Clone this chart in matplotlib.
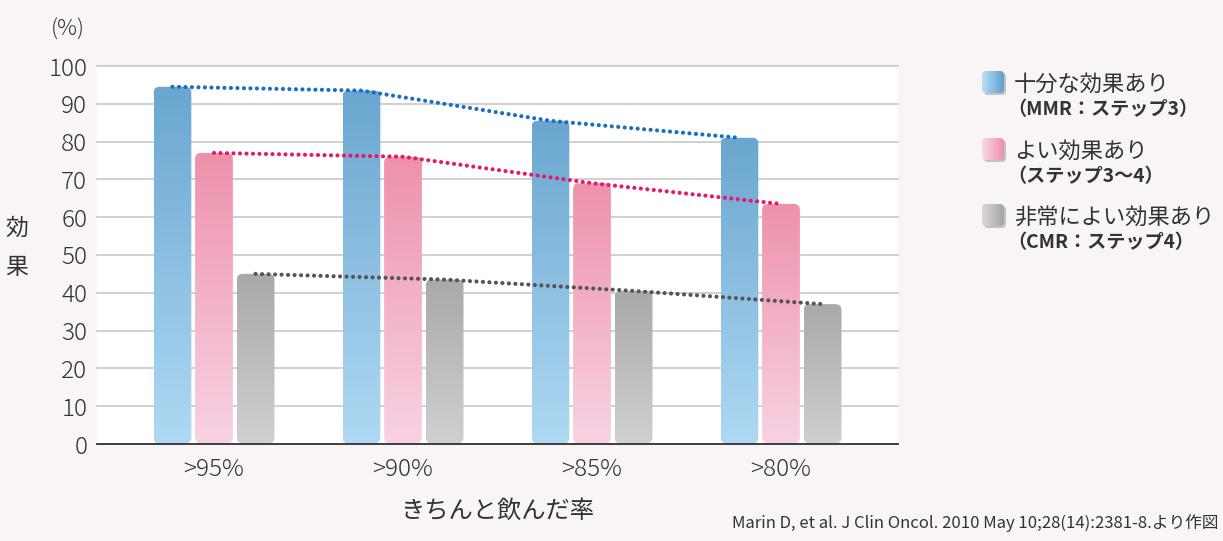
import matplotlib
matplotlib.use("Agg")
import matplotlib.pyplot as plt
import numpy as np
from matplotlib.patches import FancyBboxPatch
from matplotlib.colors import LinearSegmentedColormap

plt.rcParams['font.family'] = ['Noto Sans CJK JP', 'DejaVu Sans']

# data
groups = ['>95%', '>90%', '>85%', '>80%']
series_names = ['十分な効果あり', 'よい効果あり', '非常によい効果あり']
series_notes = ['（MMR：ステップ3）', '（ステップ3〜4）', '（CMR：ステップ4）']
mmr = [94.5, 93.5, 85.5, 81.0]
good = [77.0, 76.0, 69.0, 63.5]
cmr = [45.0, 43.5, 40.5, 37.0]
yticks = list(range(0, 101, 10))

top_colors = ['#6aa6d0', '#ee91ab', '#a9a9a9']
bottom_colors = ['#afd9f4', '#f8d3e4', '#d0d0d0']
line_colors = ['#1a6fbf', '#e5196a', '#555555']
legend_light = ['#b8def6', '#fcd8e6', '#d8d8d8']
legend_dark = ['#5e9fd0', '#ee8fad', '#a6a6a6']

BG = '#f8f5f4'
TXT = '#333333'
W, H = 1223, 541


def gradient_bar(ax, rect, c_top, c_bottom, px_x, px_y):
    # rounded bar filled with a vertical gradient
    x, w, h = rect.get_x(), rect.get_width(), rect.get_height()
    r = 6 / px_x
    asp = (6 / px_y) / r
    patch = FancyBboxPatch((x, 0.15), w, h - 0.15,
                           boxstyle=f"round,pad=0,rounding_size={r}",
                           mutation_aspect=asp, transform=ax.transData,
                           facecolor='none', edgecolor='none')
    ax.add_patch(patch)
    cmap = LinearSegmentedColormap.from_list('g', [c_bottom, c_top])
    grad = np.linspace(1, 0, 256)[:, None]
    im = ax.imshow(grad, extent=(x, x + w, 0, h), cmap=cmap, aspect='auto',
                   zorder=2, interpolation='bicubic')
    im.set_clip_path(patch)


def plot_chart():
    fig = plt.figure(figsize=(W / 100, H / 100), dpi=100, facecolor=BG)
    ax = fig.add_axes([97 / W, 97 / H, 801 / W, 378 / H])
    ax.set_facecolor('white')

    x = np.arange(len(groups))
    width = 0.2
    offsets = [-0.22, 0.0, 0.22]
    series = [mmr, good, cmr]

    xlim = (-0.619, 3.619)
    ylim = (0, 100)
    px_x = 801 / (xlim[1] - xlim[0])
    px_y = 378 / (ylim[1] - ylim[0])

    for vals, off, ct, cb, lc in zip(series, offsets, top_colors,
                                      bottom_colors, line_colors):
        bars = ax.bar(x + off, vals, width, color='none', zorder=2)
        for rect in bars:
            gradient_bar(ax, rect, ct, cb, px_x, px_y)
        ax.plot(x + off, vals, color=lc, lw=3.0, linestyle=(0, (0.01, 1.55)),
                dash_capstyle='round', zorder=4)

    ax.set_xlim(*xlim)
    ax.set_ylim(*ylim)

    # Grid and axes
    ax.set_yticks(yticks)
    ax.yaxis.grid(True, color='#c8c8c8', lw=1.2, zorder=0)
    for gl in ax.get_ygridlines():
        gl.set_clip_on(False)
    ax.set_axisbelow(True)
    for s in ['top', 'left', 'right']:
        ax.spines[s].set_visible(False)
    ax.spines['bottom'].set_color('#333333')
    ax.spines['bottom'].set_linewidth(1.3)
    ax.spines['bottom'].set_zorder(5)
    ax.set_xticks(x)
    ax.set_xticklabels(groups)
    ax.tick_params(axis='y', length=0, pad=7, labelsize=17.5, labelcolor=TXT)
    ax.tick_params(axis='x', length=0, pad=9, labelsize=17.5, labelcolor=TXT)
    for lab in ax.get_xticklabels() + ax.get_yticklabels():
        lab.set_fontweight('light')

    ax.set_xlabel('きちんと飲んだ率', fontsize=17.5, color=TXT, labelpad=12)
    fig.text(68 / W, 1 - 30 / H, '(%)', fontsize=16, color=TXT,
             ha='center', va='center', fontweight='light')
    fig.text(17 / W, 1 - 228 / H, '効', fontsize=16.5, color=TXT,
             ha='center', va='center')
    fig.text(17 / W, 1 - 268 / H, '果', fontsize=16.5, color=TXT,
             ha='center', va='center')

    # Legend drawn on a pixel overlay
    lax = fig.add_axes([0, 0, 1, 1], zorder=3)
    lax.set_xlim(0, W)
    lax.set_ylim(H, 0)
    lax.axis('off')
    lax.patch.set_alpha(0)
    tops = [71, 138, 204]
    for i, top in enumerate(tops):
        shadow = FancyBboxPatch((984, top + 2), 22, 22,
                                boxstyle="round,pad=0,rounding_size=4",
                                facecolor='#c4c2c2', edgecolor='none', zorder=1)
        lax.add_patch(shadow)
        box = FancyBboxPatch((982, top), 22, 22,
                             boxstyle="round,pad=0,rounding_size=4",
                             facecolor='none', edgecolor='none', zorder=2)
        lax.add_patch(box)
        cmap = LinearSegmentedColormap.from_list('l', [legend_light[i], legend_dark[i]])
        im = lax.imshow(np.linspace(0, 1, 64)[None, :], extent=(982, 1004, top + 22, top),
                        cmap=cmap, aspect='auto', zorder=2, interpolation='bicubic')
        im.set_clip_path(box)
        lax.text(1014, top + 13, series_names[i], fontsize=16, color=TXT,
                 ha='left', va='center')
        lax.text(1007, top + 39, series_notes[i], fontsize=13.8, color=TXT,
                 ha='left', va='center', fontweight='bold')
    lax.set_xlim(0, W)
    lax.set_ylim(H, 0)

    fig.text(1218 / W, 1 - 523 / H,
             'Marin D, et al. J Clin Oncol. 2010 May 10;28(14):2381-8.より作図',
             fontsize=12, color=TXT, ha='right', va='center')

    fig.savefig('out.png', dpi=100, facecolor=BG)


if __name__ == "__main__":
    plot_chart()
